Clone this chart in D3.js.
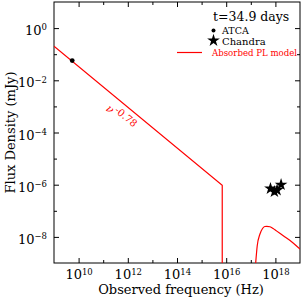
<!DOCTYPE html>
<html>
<head>
<meta charset="utf-8">
<script src="https://cdn.jsdelivr.net/npm/d3@7"></script>
<style>
  body { margin: 0; background: #fff; }
  text { font-family: "DejaVu Serif", "Liberation Serif", serif; }
</style>
</head>
<body>
<div id="chart"></div>
<script>
const width = 303;
const height = 303;
const margin = {top: 2, right: 3, bottom: 40, left: 54};

// data (frequency in Hz, flux density in mJy)
const atcaNu = [5.5e9];
const atcaFlux = [0.057];
const chandraNu = [6.3e17, 9.1e17, 1.17e18, 1.7e18];
const chandraFlux = [7.1e-7, 5.4e-7, 6.2e-7, 1.0e-6];
const radioModelNu = [1e9, 6.9e15, 6.9e15];
const radioModelFlux = [0.204, 9.6e-7, 1e-9];
const xrayModelNu = [1.58e17, 1.82e17, 2.34e17, 3.0e17, 3.7e17, 4.47e17, 6.0e17, 8.1e17, 1.1e18, 2.09e18, 5.4e18, 1e19];
const xrayModelFlux = [1e-9, 4.5e-9, 1.26e-8, 2.1e-8, 2.5e-8, 2.55e-8, 2.45e-8, 2.1e-8, 1.7e-8, 1.1e-8, 5.75e-9, 3.4e-9];
const xMajor = [1e10, 1e12, 1e14, 1e16, 1e18];
const xMinor = [1e11, 1e13, 1e15, 1e17];
const yMajor = [1e0, 1e-2, 1e-4, 1e-6, 1e-8];
const yMinor = [1e-1, 1e-3, 1e-5, 1e-7];
const slopeLabel = "-0.78";
const epochLabel = "t=34.9 days";
const legendNames = ["ATCA", "Chandra", "Absorbed PL model"];

const svg = d3.select("#chart").append("svg")
    .attr("width", width)
    .attr("height", height);

const x = d3.scaleLog()
    .domain([1e9, 1e19])
    .range([margin.left, width - margin.right]);

const y = d3.scaleLog()
    .domain([1e-9, 1e1])
    .range([height - margin.bottom, margin.top]);

svg.append("clipPath").attr("id", "clip")
    .append("rect")
    .attr("x", margin.left).attr("y", margin.top)
    .attr("width", width - margin.left - margin.right)
    .attr("height", height - margin.top - margin.bottom);

function powerLabel(sel) {
    sel.each(function(d) {
        const t = d3.select(this);
        const e = Math.round(Math.log10(d));
        t.text(null);
        t.append("tspan").text("10");
        t.append("tspan")
            .attr("font-size", "8.5px")
            .attr("dy", "-0.55em")
            .text(e < 0 ? "\u2212" + (-e) : e);
    });
}

function tickAxis(axisFn, scale, vals, size, transform, labels) {
    const g = svg.append("g")
        .attr("transform", transform)
        .call(axisFn(scale).tickValues(vals).tickSize(-size).tickFormat(labels ? null : ""));
    g.select(".domain").remove();
    g.selectAll("line").attr("stroke", "#000").attr("stroke-width", 1);
    return g;
}

const bottomY = height - margin.bottom;
const rightX = width - margin.right;

// major + minor ticks on all four sides, pointing inward
const gb = tickAxis(d3.axisBottom, x, xMajor, 5, `translate(0,${bottomY})`, true);
gb.selectAll("text")
    .attr("font-size", "13px")
    .attr("fill", "#000")
    .attr("y", 7)
    .attr("dy", "0.71em")
    .call(powerLabel);
tickAxis(d3.axisBottom, x, xMinor, 3, `translate(0,${bottomY})`, false);
tickAxis(d3.axisTop, x, xMajor, 5, `translate(0,${margin.top})`, false);
tickAxis(d3.axisTop, x, xMinor, 3, `translate(0,${margin.top})`, false);

const gl = tickAxis(d3.axisLeft, y, yMajor, 5, `translate(${margin.left},0)`, true);
gl.selectAll("text")
    .attr("font-size", "13px")
    .attr("fill", "#000")
    .attr("x", -7)
    .attr("dy", "0.5em")
    .call(powerLabel);
tickAxis(d3.axisLeft, y, yMinor, 3, `translate(${margin.left},0)`, false);
tickAxis(d3.axisRight, y, yMajor, 5, `translate(${rightX},0)`, false);
tickAxis(d3.axisRight, y, yMinor, 3, `translate(${rightX},0)`, false);

// frame
svg.append("rect")
    .attr("x", margin.left).attr("y", margin.top)
    .attr("width", rightX - margin.left)
    .attr("height", bottomY - margin.top)
    .attr("fill", "none")
    .attr("stroke", "#000")
    .attr("stroke-width", 1);

// axis titles
svg.append("text")
    .attr("x", (margin.left + rightX) / 2 + 4)
    .attr("y", 294)
    .attr("text-anchor", "middle")
    .attr("font-size", "13px")
    .text("Observed frequency (Hz)");

svg.append("text")
    .attr("transform", `translate(15,${(margin.top + bottomY) / 2}) rotate(-90)`)
    .attr("text-anchor", "middle")
    .attr("font-size", "13px")
    .text("Flux Density (mJy)");

// model lines
const line = d3.line()
    .x(d => x(d[0]))
    .y(d => y(d[1]));

const plot = svg.append("g").attr("clip-path", "url(#clip)");

plot.append("path")
    .datum(d3.zip(radioModelNu, radioModelFlux))
    .attr("d", line)
    .attr("fill", "none")
    .attr("stroke", "#ff0000")
    .attr("stroke-width", 1.2);

plot.append("path")
    .datum(d3.zip(xrayModelNu, xrayModelFlux))
    .attr("d", line.curve(d3.curveMonotoneX))
    .attr("fill", "none")
    .attr("stroke", "#ff0000")
    .attr("stroke-width", 1.2);

// slope annotation
const angle = Math.atan2(y(radioModelFlux[1]) - y(radioModelFlux[0]),
    x(radioModelNu[1]) - x(radioModelNu[0])) * 180 / Math.PI;
const lbl = svg.append("text")
    .attr("transform", `translate(${x(1.2e11)},${y(3.3e-3) + 17}) rotate(${angle})`)
    .attr("fill", "#ff0000")
    .attr("font-size", "11px");
lbl.append("tspan").attr("font-style", "italic").text("\u03bd");
lbl.append("tspan").attr("font-size", "10px").attr("dy", "-0.45em").attr("dx", "1").text(slopeLabel);

// data points
svg.append("g").selectAll("circle")
    .data(d3.zip(atcaNu, atcaFlux))
    .join("circle")
    .attr("cx", d => x(d[0]))
    .attr("cy", d => y(d[1]))
    .attr("r", 2.4)
    .attr("fill", "#000");

const star = d3.symbol().type(d3.symbolStar).size(50);
svg.append("g").selectAll("path")
    .data(d3.zip(chandraNu, chandraFlux))
    .join("path")
    .attr("transform", d => `translate(${x(d[0])},${y(d[1])})`)
    .attr("d", star)
    .attr("fill", "#000");

// legend
svg.append("text")
    .attr("x", 213).attr("y", 21)
    .attr("font-size", "12.5px")
    .text(epochLabel);

svg.append("circle")
    .attr("cx", 213.5).attr("cy", 30.5).attr("r", 2)
    .attr("fill", "#000");
svg.append("text")
    .attr("x", 222).attr("y", 34)
    .attr("font-size", "9.5px")
    .text(legendNames[0]);

svg.append("path")
    .attr("transform", "translate(213.5,40.5)")
    .attr("d", star)
    .attr("fill", "#000");
svg.append("text")
    .attr("x", 222).attr("y", 44.5)
    .attr("font-size", "10px")
    .text(legendNames[1]);

svg.append("line")
    .attr("x1", 177).attr("x2", 202)
    .attr("y1", 52.5).attr("y2", 52.5)
    .attr("stroke", "#ff0000")
    .attr("stroke-width", 1.2);
svg.append("text")
    .attr("x", 212).attr("y", 55.5)
    .attr("font-size", "8.6px")
    .attr("fill", "#ff0000")
    .text(legendNames[2]);
</script>
</body>
</html>
